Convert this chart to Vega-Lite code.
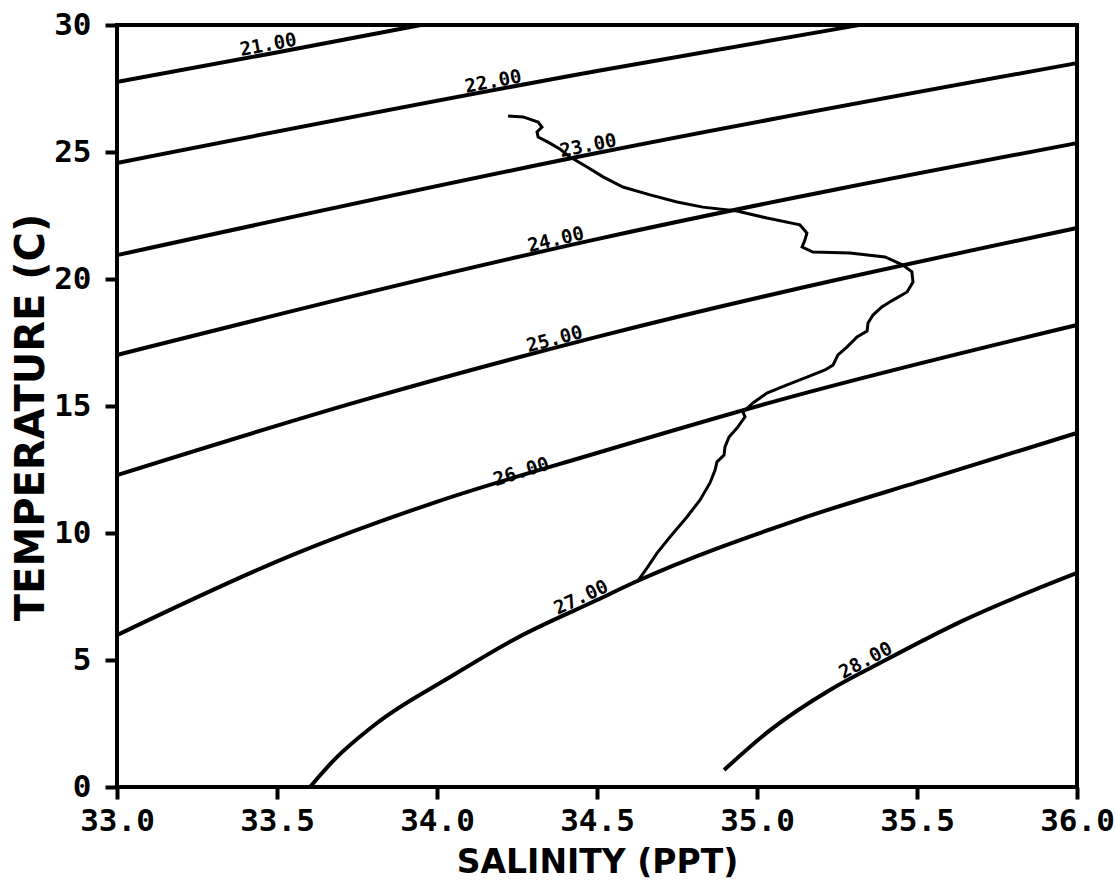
{
  "$schema": "https://vega.github.io/schema/vega-lite/v6.json",
  "width": 960,
  "height": 762,
  "autosize": {"type": "none"},
  "padding": {"left": 117, "top": 25, "right": 39, "bottom": 95},
  "background": "white",
  "config": {
    "view": {"stroke": "black", "strokeWidth": 4},
    "axis": {
      "domain": false,
      "grid": false,
      "ticks": true,
      "tickSize": 12,
      "tickWidth": 4,
      "tickColor": "black",
      "labelFont": "DejaVu Sans Mono",
      "labelFontWeight": "bold",
      "labelFontSize": 31,
      "labelColor": "black",
      "labelOverlap": false,
      "labelBound": false,
      "titleFont": "DejaVu Sans",
      "titleFontWeight": "bold",
      "titleColor": "black"
    }
  },
  "datasets": {
    "iso": [
      {"sigma": "21.00", "S": 33.0, "T": 27.76},
      {"sigma": "21.00", "S": 33.478, "T": 28.87},
      {"sigma": "21.00", "S": 33.95, "T": 30.0},
      {"sigma": "22.00", "S": 33.0, "T": 24.57},
      {"sigma": "22.00", "S": 34.5, "T": 28.19},
      {"sigma": "22.00", "S": 35.32, "T": 30.0},
      {"sigma": "23.00", "S": 33.0, "T": 20.94},
      {"sigma": "23.00", "S": 34.5, "T": 24.96},
      {"sigma": "23.00", "S": 36.0, "T": 28.5},
      {"sigma": "24.00", "S": 33.0, "T": 17.01},
      {"sigma": "24.00", "S": 34.5, "T": 21.57},
      {"sigma": "24.00", "S": 36.0, "T": 25.35},
      {"sigma": "25.00", "S": 33.0, "T": 12.28},
      {"sigma": "25.00", "S": 33.772, "T": 15.24},
      {"sigma": "25.00", "S": 34.5, "T": 17.72},
      {"sigma": "25.00", "S": 36.0, "T": 22.01},
      {"sigma": "26.00", "S": 33.0, "T": 5.98},
      {"sigma": "26.00", "S": 33.5625, "T": 9.21},
      {"sigma": "26.00", "S": 33.9875, "T": 11.18},
      {"sigma": "26.00", "S": 34.5, "T": 13.15},
      {"sigma": "26.00", "S": 35.072, "T": 15.24},
      {"sigma": "26.00", "S": 36.0, "T": 18.19},
      {"sigma": "27.00", "S": 33.603, "T": 0.0},
      {"sigma": "27.00", "S": 33.678, "T": 1.06},
      {"sigma": "27.00", "S": 33.8125, "T": 2.52},
      {"sigma": "27.00", "S": 34.041, "T": 4.33},
      {"sigma": "27.00", "S": 34.25, "T": 5.87},
      {"sigma": "27.00", "S": 34.5, "T": 7.36},
      {"sigma": "27.00", "S": 34.619, "T": 8.07},
      {"sigma": "27.00", "S": 35.125, "T": 10.51},
      {"sigma": "27.00", "S": 35.541, "T": 12.15},
      {"sigma": "27.00", "S": 36.0, "T": 13.94},
      {"sigma": "28.00", "S": 34.897, "T": 0.67},
      {"sigma": "28.00", "S": 35.041, "T": 2.24},
      {"sigma": "28.00", "S": 35.228, "T": 3.82},
      {"sigma": "28.00", "S": 35.384, "T": 4.88},
      {"sigma": "28.00", "S": 35.647, "T": 6.57},
      {"sigma": "28.00", "S": 36.0, "T": 8.43}
    ],
    "labs": [
      {"label": "21.00", "S": 33.478, "T": 28.87},
      {"label": "22.00", "S": 34.181, "T": 27.42},
      {"label": "23.00", "S": 34.478, "T": 24.9},
      {"label": "24.00", "S": 34.378, "T": 21.2},
      {"label": "25.00", "S": 34.375, "T": 17.29},
      {"label": "26.00", "S": 34.272, "T": 12.07},
      {"label": "27.00", "S": 34.4625, "T": 7.14},
      {"label": "28.00", "S": 35.353, "T": 4.67}
    ],
    "prof": [
      {"i": 1, "S": 34.222, "T": 26.42},
      {"i": 2, "S": 34.269, "T": 26.38},
      {"i": 3, "S": 34.316, "T": 26.18},
      {"i": 4, "S": 34.328, "T": 25.98},
      {"i": 5, "S": 34.3125, "T": 25.79},
      {"i": 6, "S": 34.316, "T": 25.59},
      {"i": 7, "S": 34.347, "T": 25.39},
      {"i": 8, "S": 34.384, "T": 25.12},
      {"i": 9, "S": 34.416, "T": 24.8},
      {"i": 10, "S": 34.469, "T": 24.41},
      {"i": 11, "S": 34.519, "T": 24.02},
      {"i": 12, "S": 34.581, "T": 23.62},
      {"i": 13, "S": 34.666, "T": 23.31},
      {"i": 14, "S": 34.75, "T": 23.03},
      {"i": 15, "S": 34.831, "T": 22.83},
      {"i": 16, "S": 34.9375, "T": 22.68},
      {"i": 17, "S": 35.031, "T": 22.4},
      {"i": 18, "S": 35.134, "T": 22.13},
      {"i": 19, "S": 35.156, "T": 21.81},
      {"i": 20, "S": 35.15, "T": 21.54},
      {"i": 21, "S": 35.141, "T": 21.26},
      {"i": 22, "S": 35.175, "T": 21.06},
      {"i": 23, "S": 35.29, "T": 21.02},
      {"i": 24, "S": 35.4, "T": 20.87},
      {"i": 25, "S": 35.456, "T": 20.55},
      {"i": 26, "S": 35.484, "T": 20.28},
      {"i": 27, "S": 35.4875, "T": 19.88},
      {"i": 28, "S": 35.469, "T": 19.49},
      {"i": 29, "S": 35.425, "T": 19.17},
      {"i": 30, "S": 35.39, "T": 18.9},
      {"i": 31, "S": 35.3625, "T": 18.58},
      {"i": 32, "S": 35.347, "T": 18.27},
      {"i": 33, "S": 35.344, "T": 17.95},
      {"i": 34, "S": 35.3125, "T": 17.72},
      {"i": 35, "S": 35.281, "T": 17.32},
      {"i": 36, "S": 35.253, "T": 17.01},
      {"i": 37, "S": 35.2375, "T": 16.61},
      {"i": 38, "S": 35.2125, "T": 16.42},
      {"i": 39, "S": 35.156, "T": 16.14},
      {"i": 40, "S": 35.094, "T": 15.83},
      {"i": 41, "S": 35.031, "T": 15.51},
      {"i": 42, "S": 34.9875, "T": 15.12},
      {"i": 43, "S": 34.956, "T": 14.76},
      {"i": 44, "S": 34.9625, "T": 14.57},
      {"i": 45, "S": 34.9375, "T": 14.13},
      {"i": 46, "S": 34.9125, "T": 13.78},
      {"i": 47, "S": 34.9, "T": 13.39},
      {"i": 48, "S": 34.897, "T": 13.07},
      {"i": 49, "S": 34.875, "T": 12.8},
      {"i": 50, "S": 34.869, "T": 12.48},
      {"i": 51, "S": 34.853, "T": 11.97},
      {"i": 52, "S": 34.822, "T": 11.3},
      {"i": 53, "S": 34.781, "T": 10.63},
      {"i": 54, "S": 34.728, "T": 9.84},
      {"i": 55, "S": 34.6875, "T": 9.21},
      {"i": 56, "S": 34.656, "T": 8.62},
      {"i": 57, "S": 34.625, "T": 8.07}
    ]
  },
  "encoding": {
    "x": {
      "field": "S",
      "type": "quantitative",
      "scale": {"domain": [33, 36], "nice": false, "zero": false},
      "axis": {
        "title": "SALINITY (PPT)",
        "values": [33, 33.5, 34, 34.5, 35, 35.5, 36],
        "format": ".1f",
        "labelFlush": false,
        "labelPadding": 7,
        "titleFontSize": 33,
        "titleX": 480,
        "titleY": 75,
        "titleAnchor": "middle",
        "titleAlign": "center",
        "titleBaseline": "middle"
      }
    },
    "y": {
      "field": "T",
      "type": "quantitative",
      "scale": {"domain": [0, 30], "nice": false, "zero": false},
      "axis": {
        "title": "TEMPERATURE (C)",
        "values": [0, 5, 10, 15, 20, 25, 30],
        "format": "d",
        "labelPadding": 14,
        "titleFontSize": 40,
        "titleX": -86,
        "titleY": 392,
        "titleAngle": -90,
        "titleAlign": "center",
        "titleBaseline": "middle"
      }
    }
  },
  "layer": [
    {
      "data": {"name": "iso"},
      "mark": {"type": "line", "color": "black", "strokeWidth": 4, "interpolate": "monotone"},
      "encoding": {"detail": {"field": "sigma"}}
    },
    {
      "data": {"name": "prof"},
      "mark": {"type": "line", "color": "black", "strokeWidth": 3},
      "encoding": {"order": {"field": "i", "type": "quantitative"}}
    },
    {
      "data": {"name": "labs"},
      "mark": {
        "type": "text",
        "font": "DejaVu Sans Mono",
        "fontWeight": "bold",
        "fontSize": 19,
        "color": "black",
        "align": "center",
        "baseline": "alphabetic",
        "dy": -3
      },
      "encoding": {
        "text": {"field": "label"},
        "angle": {
          "field": "label",
          "type": "nominal",
          "scale": {
            "type": "ordinal",
            "domain": ["21.00", "22.00", "23.00", "24.00", "25.00", "26.00", "27.00", "28.00"],
            "range": [349.5, 349, 348.5, 346.5, 345, 342.5, 335, 332]
          },
          "legend": null
        }
      }
    }
  ]
}
